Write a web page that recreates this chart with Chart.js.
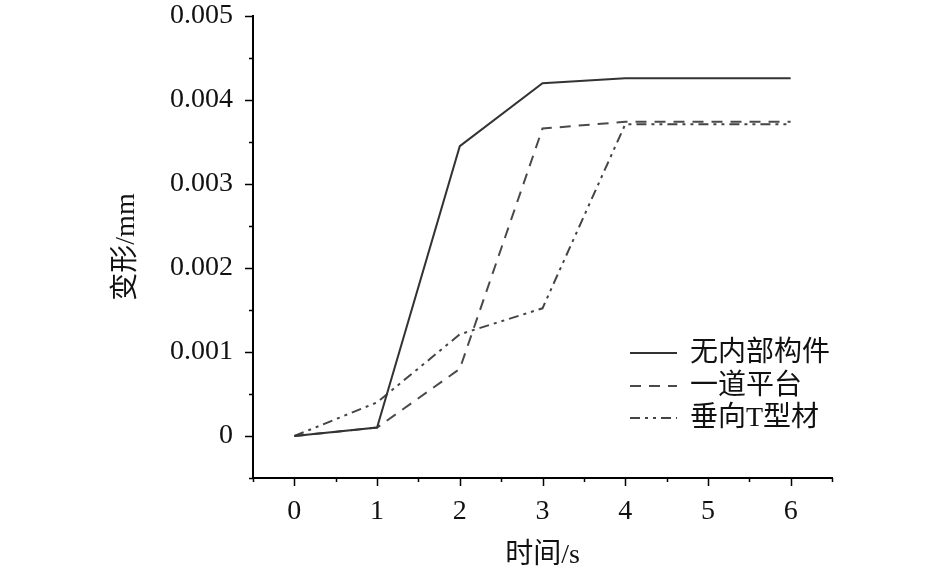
<!DOCTYPE html>
<html lang="zh">
<head>
    <meta charset="UTF-8">
    <title>变形-时间</title>
    <script src="https://cdn.jsdelivr.net/npm/chart.js"></script>
    <style>
        body { margin: 0; background: #fff; }
    </style>
</head>
<body>
    <canvas id="deformChart" width="945" height="575"></canvas>
    <script>
        const times = [0, 1, 2, 3, 4, 5, 6];
        const noMembers = [0, 0.0001, 0.00345, 0.0042, 0.00426, 0.00426, 0.00426];
        const onePlatform = [0, 0.0001, 0.0008, 0.00366, 0.00374, 0.00374, 0.00374];
        const verticalT = [0, 0.0004, 0.00121, 0.00152, 0.00371, 0.00371, 0.00371];
        const seriesNames = ['无内部构件', '一道平台', '垂向T型材'];
        const yTicks = [0, 0.001, 0.002, 0.003, 0.004, 0.005];
        const xTicks = [0, 1, 2, 3, 4, 5, 6];

        const serif = '"Liberation Serif", "Noto Sans CJK SC", serif';
        const lineColors = ['#333', '#4a4a4a', '#444'];

        const toPoints = vals => times.map((t, i) => ({ x: t, y: vals[i] }));

        // outward ticks, long on majors, short on the half steps
        const tickMarks = {
            id: 'tickMarks',
            afterDraw(chart) {
                const { ctx, scales: { x, y } } = chart;
                ctx.save();
                ctx.strokeStyle = '#000';
                ctx.lineWidth = 1.5;
                ctx.beginPath();
                for (let v = -0.5; v <= 6.5001; v += 0.5) {
                    const px = Math.round(x.getPixelForValue(v)) + 0.5;
                    const len = Number.isInteger(v) ? 8 : 4;
                    ctx.moveTo(px, y.bottom);
                    ctx.lineTo(px, y.bottom + len);
                }
                for (let k = -1; k <= 10; k++) {
                    const py = Math.round(y.getPixelForValue(k * 0.0005)) + 0.5;
                    const len = k % 2 === 0 ? 8 : 4;
                    ctx.moveTo(x.left, py);
                    ctx.lineTo(x.left - len, py);
                }
                ctx.stroke();
                ctx.restore();
            }
        };

        // legend drawn inside the plot area
        const innerLegend = {
            id: 'innerLegend',
            afterDatasetsDraw(chart) {
                const { ctx } = chart;
                const x0 = 630, x1 = 677, tx = 690;
                const rows = [353, 386, 418];
                ctx.save();
                chart.data.datasets.forEach((ds, i) => {
                    ctx.strokeStyle = ds.borderColor;
                    ctx.lineWidth = ds.borderWidth;
                    ctx.setLineDash(ds.borderDash || []);
                    ctx.beginPath();
                    ctx.moveTo(x0, rows[i]);
                    ctx.lineTo(x1, rows[i]);
                    ctx.stroke();
                    ctx.setLineDash([]);
                    ctx.fillStyle = '#111';
                    ctx.font = '28px ' + serif;
                    ctx.textBaseline = 'middle';
                    ctx.fillText(ds.label, tx, rows[i] + 1);
                });
                ctx.restore();
            }
        };

        new Chart(document.getElementById('deformChart'), {
            type: 'line',
            data: {
                datasets: [
                    { label: seriesNames[0], data: toPoints(noMembers), borderDash: [] },
                    { label: seriesNames[1], data: toPoints(onePlatform), borderDash: [11, 8] },
                    { label: seriesNames[2], data: toPoints(verticalT), borderDash: [10, 5, 3, 5, 3, 5] }
                ].map((ds, i) => Object.assign(ds, {
                    borderColor: lineColors[i],
                    borderWidth: 2,
                    pointRadius: 0,
                    tension: 0,
                    fill: false
                }))
            },
            options: {
                responsive: false,
                animation: false,
                devicePixelRatio: 1,
                layout: { padding: { left: 100, top: 16, right: 113, bottom: 0 } },
                plugins: {
                    legend: { display: false },
                    tooltip: { enabled: false }
                },
                scales: {
                    x: {
                        type: 'linear',
                        min: -0.5,
                        max: 6.5,
                        afterBuildTicks: s => { s.ticks = xTicks.map(v => ({ value: v })); },
                        afterFit: s => { s.height = 97; s.paddingLeft = 0; s.paddingRight = 0; },
                        grid: { drawOnChartArea: false, drawTicks: false },
                        border: { display: true, color: '#000', width: 2 },
                        ticks: {
                            padding: 17,
                            color: '#111',
                            maxRotation: 0,
                            font: { family: serif, size: 28 }
                        },
                        title: {
                            display: true,
                            text: '时间/s',
                            color: '#111',
                            padding: { top: 0, bottom: 3 },
                            font: { family: serif, size: 28 }
                        }
                    },
                    y: {
                        type: 'linear',
                        min: -0.0005,
                        max: 0.005,
                        afterBuildTicks: s => { s.ticks = yTicks.map(v => ({ value: v })); },
                        afterFit: s => { s.width = 153; s.paddingTop = 0; s.paddingBottom = 0; },
                        grid: { drawOnChartArea: false, drawTicks: false },
                        border: { display: true, color: '#000', width: 2 },
                        ticks: {
                            padding: 20,
                            color: '#111',
                            font: { family: serif, size: 28 },
                            callback: v => v === 0 ? '0' : v.toFixed(3)
                        },
                        title: {
                            display: true,
                            text: '变形/mm',
                            color: '#111',
                            padding: { top: 10, bottom: 0 },
                            font: { family: serif, size: 28 }
                        }
                    }
                }
            },
            plugins: [tickMarks, innerLegend]
        });
    </script>
</body>
</html>
